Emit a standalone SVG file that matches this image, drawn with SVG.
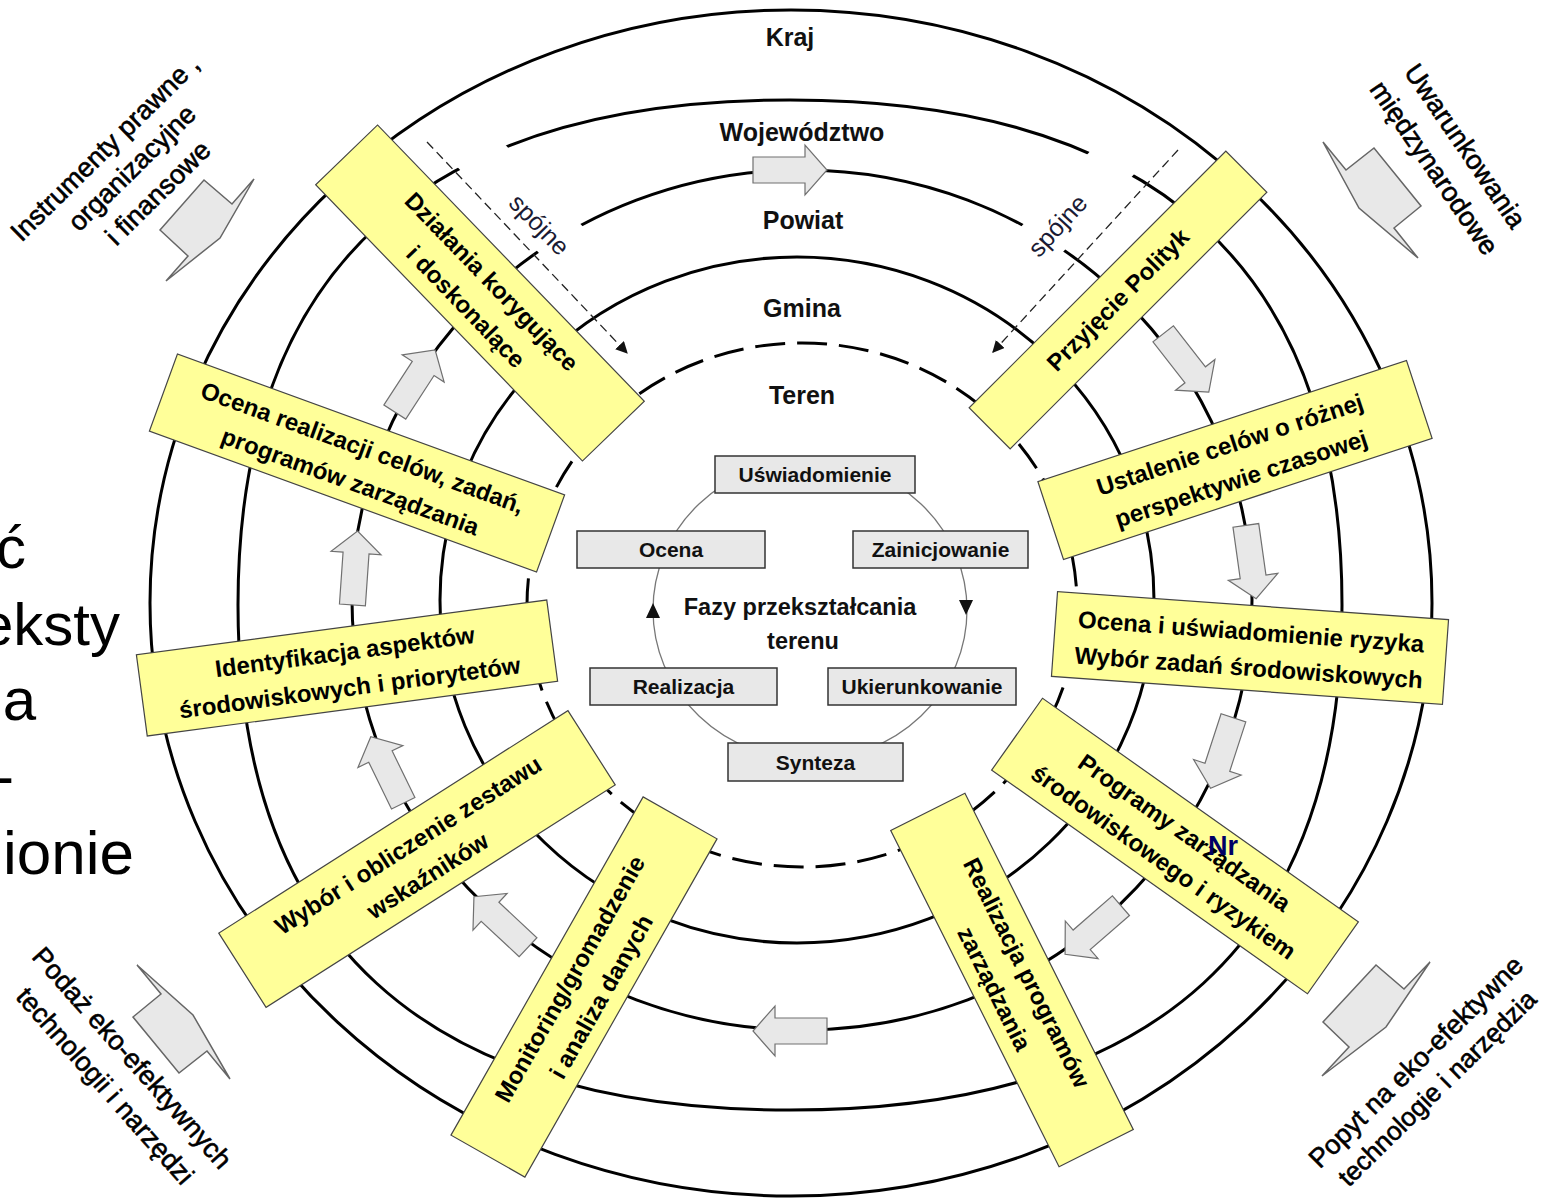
<svg xmlns="http://www.w3.org/2000/svg" width="1546" height="1202" viewBox="0 0 1546 1202">
<style>
.ring{fill:none;stroke:#000;stroke-width:3}
.teren{fill:none;stroke:#000;stroke-width:3;stroke-dasharray:30 12}
.yb{fill:#ffff99;stroke:#444;stroke-width:1.2}
.yt{font-family:"Liberation Sans",Arial,sans-serif;font-weight:bold;font-size:24px;text-anchor:middle;fill:#000}
.gb{fill:#e8e8e8;stroke:#333;stroke-width:1.5}
.gt{font-family:"Liberation Sans",Arial,sans-serif;font-weight:bold;font-size:21px;text-anchor:middle;fill:#111}
.lbl{font-family:"Liberation Sans",Arial,sans-serif;font-weight:bold;font-size:25px;text-anchor:middle;fill:#111}
.ga{fill:#e8e8e8;stroke:#707070;stroke-width:1.2}
.ct{font-family:"Liberation Sans",Arial,sans-serif;font-size:27px;text-anchor:middle;fill:#000;stroke:#000;stroke-width:0.6}
.big{font-family:"Liberation Sans",Arial,sans-serif;font-size:60px;text-anchor:end;fill:#000}
.sp{font-family:"Liberation Sans",Arial,sans-serif;font-size:25px;text-anchor:middle;fill:#1a1a33}
.dash{stroke:#222;stroke-width:1.3;stroke-dasharray:9 5;fill:none}
.wb{fill:#fff;stroke:none}
</style>
<defs>
<marker id="ah" viewBox="0 0 10 10" refX="9" refY="5" markerWidth="12" markerHeight="12" markerUnits="userSpaceOnUse" orient="auto">
<path d="M0,0 L10,5 L0,10 Z" fill="#111"/>
</marker>
<path id="ga" d="M-37,-13 H15 V-25 L37,0 L15,25 V13 H-37 Z"/>
</defs>

<g id="rings">
<ellipse cx="791" cy="603" rx="641" ry="593" class="ring"/>
<path class="ring" d="M1342,605 C1342,940.3 1156.5,1110 790,1110 C423.5,1110 238,940.3 238,605 C238,269.7 423.5,100 790,100 C1156.5,100 1342,269.7 1342,605 Z"/>
<ellipse cx="802" cy="600" rx="450" ry="430" class="ring"/>
<ellipse cx="797" cy="600" rx="357" ry="343" class="ring"/>
<ellipse cx="802" cy="605" rx="275" ry="262" class="teren"/>
<polygon class="wb" points="451.2,160.4 557.9,272.9 594.2,238.5 487.5,126"/>
<polygon class="wb" points="1145.9,161.3 1044.7,271.9 1009.3,239.5 1110.5,128.9"/>
</g>

<g id="ring-labels">
<text class="lbl" x="790" y="46">Kraj</text>
<text class="lbl" x="802" y="141">Województwo</text>
<text class="lbl" x="803" y="229">Powiat</text>
<text class="lbl" x="802" y="317">Gmina</text>
<text class="lbl" x="802" y="404">Teren</text>
<text class="sp" transform="translate(539,225) rotate(45.8)" y="8">spójne</text>
<text class="sp" transform="translate(1058,226) rotate(-47.5)" y="8">spójne</text>
</g>

<g id="connectors">
<line class="dash" x1="427" y1="142" x2="627" y2="353" marker-end="url(#ah)"/>
<line class="dash" x1="1178" y1="150" x2="993" y2="352" marker-end="url(#ah)"/>
<use href="#ga" class="ga" transform="translate(790,170)"/>
<use href="#ga" class="ga" transform="translate(1186,363) rotate(52)"/>
<use href="#ga" class="ga" transform="translate(1251,562) rotate(82)"/>
<use href="#ga" class="ga" transform="translate(1222,753) rotate(108)"/>
<use href="#ga" class="ga" transform="translate(1093,930) rotate(139)"/>
<use href="#ga" class="ga" transform="translate(790,1031) rotate(180)"/>
<use href="#ga" class="ga" transform="translate(501,922) rotate(223)"/>
<use href="#ga" class="ga" transform="translate(387,770) rotate(244)"/>
<use href="#ga" class="ga" transform="translate(355,568) rotate(274)"/>
<use href="#ga" class="ga" transform="translate(415,381) rotate(303)"/>
</g>

<g id="n-dzialania" transform="translate(480,293) rotate(46)">
<rect class="yb" x="-192" y="-43" width="384" height="86"/>
<text class="yt"><tspan x="0" y="-8">Działania korygujące</tspan><tspan x="0" y="28">i doskonalące</tspan></text>
</g>
<g id="n-przyjecie" transform="translate(1118,300) rotate(-45)">
<rect class="yb" x="-181.5" y="-29" width="363" height="58"/>
<text class="yt" x="0" y="8">Przyjęcie Polityk</text>
</g>
<g id="n-ustalenie" transform="translate(1235,460) rotate(-18.2)">
<rect class="yb" x="-194" y="-41" width="388" height="82"/>
<text class="yt"><tspan x="0" y="-8">Ustalenie celów o różnej</tspan><tspan x="0" y="28">perspektywie czasowej</tspan></text>
</g>
<g id="n-ocena-ryzyka" transform="translate(1250,648) rotate(4.1)">
<rect class="yb" x="-196" y="-42.5" width="392" height="85"/>
<text class="yt"><tspan x="0" y="-8">Ocena i uświadomienie ryzyka</tspan><tspan x="0" y="28">Wybór zadań środowiskowych</tspan></text>
</g>
<g id="n-programy" transform="translate(1175,846) rotate(35.3)">
<rect class="yb" x="-193.5" y="-44" width="387" height="88"/>
<text class="yt"><tspan x="0" y="-8">Programy zarządzania</tspan><tspan x="0" y="28">środowiskowego i ryzykiem</tspan></text>
</g>
<g id="n-realizacja-programow" transform="translate(1012,980) rotate(63.4)">
<rect class="yb" x="-188" y="-41.5" width="376" height="83"/>
<text class="yt"><tspan x="0" y="-8">Realizacja programów</tspan><tspan x="0" y="28">zarządzania</tspan></text>
</g>
<g id="n-monitoring" transform="translate(584,987) rotate(-60.4)">
<rect class="yb" x="-194.5" y="-42.5" width="389" height="85"/>
<text class="yt"><tspan x="0" y="-8">Monitoring/gromadzenie</tspan><tspan x="0" y="28">i analiza danych</tspan></text>
</g>
<g id="n-wybor" transform="translate(417,859) rotate(-32.5)">
<rect class="yb" x="-207" y="-44" width="414" height="88"/>
<text class="yt"><tspan x="0" y="-8">Wybór i obliczenie zestawu</tspan><tspan x="0" y="28">wskaźników</tspan></text>
</g>
<g id="n-identyfikacja" transform="translate(347,668) rotate(-7.6)">
<rect class="yb" x="-207" y="-41" width="414" height="82"/>
<text class="yt"><tspan x="0" y="-8">Identyfikacja aspektów</tspan><tspan x="0" y="28">środowiskowych i priorytetów</tspan></text>
</g>
<g id="n-ocena-realizacji" transform="translate(357,463) rotate(20)">
<rect class="yb" x="-206" y="-41" width="412" height="82"/>
<text class="yt"><tspan x="0" y="-8">Ocena realizacji celów, zadań,</tspan><tspan x="0" y="28">programów zarządzania</tspan></text>
</g>

<g id="phase-cycle">
<ellipse cx="810" cy="610" rx="157" ry="150" fill="none" stroke="#777" stroke-width="1.3"/>
<path d="M959,600 L973,600 L966,615 Z" fill="#111"/>
<path d="M646,618 L660,618 L653,603 Z" fill="#111"/>
<text class="gt" style="font-size:23.5px" x="800" y="615">Fazy przekształcania</text>
<text class="gt" style="font-size:23.5px" x="803" y="649">terenu</text>
</g>
<g id="p-uswiadomienie"><rect class="gb" x="715" y="456" width="200" height="37"/><text class="gt" x="815" y="482">Uświadomienie</text></g>
<g id="p-zainicjowanie"><rect class="gb" x="853" y="531" width="175" height="37"/><text class="gt" x="940.5" y="557">Zainicjowanie</text></g>
<g id="p-ocena"><rect class="gb" x="577" y="531" width="188" height="37"/><text class="gt" x="671" y="557">Ocena</text></g>
<g id="p-ukierunkowanie"><rect class="gb" x="828" y="668" width="188" height="37"/><text class="gt" x="922" y="694">Ukierunkowanie</text></g>
<g id="p-realizacja"><rect class="gb" x="590" y="668" width="187" height="37"/><text class="gt" x="683.5" y="694">Realizacja</text></g>
<g id="p-synteza"><rect class="gb" x="728" y="743" width="175" height="38"/><text class="gt" x="815.5" y="770">Synteza</text></g>

<g id="c-instrumenty">
<polygon class="ga" style="stroke:#666;stroke-width:1.5" points="160,230 204,180 232,204 254,179 220,238 166,281 188,256"/>
<text class="ct" transform="translate(105,148) rotate(-44.5)" y="9">Instrumenty prawne ,</text>
<text class="ct" transform="translate(132,168) rotate(-44.5)" y="9">organizacyjne</text>
<text class="ct" transform="translate(158,193) rotate(-44.5)" y="9">i finansowe</text>
</g>
<g id="c-uwarunkowania">
<polygon class="ga" style="stroke:#666;stroke-width:1.5" points="1323,142 1346,170 1374,148 1421,206 1394,228 1418,258 1359,208"/>
<text class="ct" transform="translate(1465,146) rotate(55.5)" y="9">Uwarunkowania</text>
<text class="ct" transform="translate(1434,168) rotate(55.5)" y="9">międzynarodowe</text>
</g>
<g id="c-podaz">
<polygon class="ga" style="stroke:#666;stroke-width:1.5" points="137,965 161,994 133,1017 179,1073 207,1051 230,1079 193,1015"/>
<text class="ct" transform="translate(132,1058) rotate(48.5)" y="9">Podaż eko-efektywnych</text>
<text class="ct" transform="translate(105,1086) rotate(48.5)" y="9">technologii i narzędzi</text>
</g>
<g id="c-popyt">
<polygon class="ga" style="stroke:#666;stroke-width:1.5" points="1323,1022 1376,965 1404,989 1430,962 1386,1027 1322,1076 1349,1047"/>
<text class="ct" transform="translate(1416,1062) rotate(-44.6)" y="9">Popyt na eko-efektywne</text>
<text class="ct" style="font-size:26px" transform="translate(1437,1088) rotate(-44.6)" y="9">technologie i narzędzia</text>
</g>

<g id="cut-text">
<text class="big" x="26" y="568">ć</text>
<text class="big" x="120" y="645">eksty</text>
<text class="big" x="36" y="720">a</text>
<text class="big" x="14" y="796">-</text>
<text class="big" style="font-size:62px" x="134" y="874">ionie</text>
</g>

<text x="1208" y="855" style="font-family:'Liberation Sans',Arial,sans-serif;font-weight:bold;font-size:27px;fill:#000066">Nr</text>
</svg>
